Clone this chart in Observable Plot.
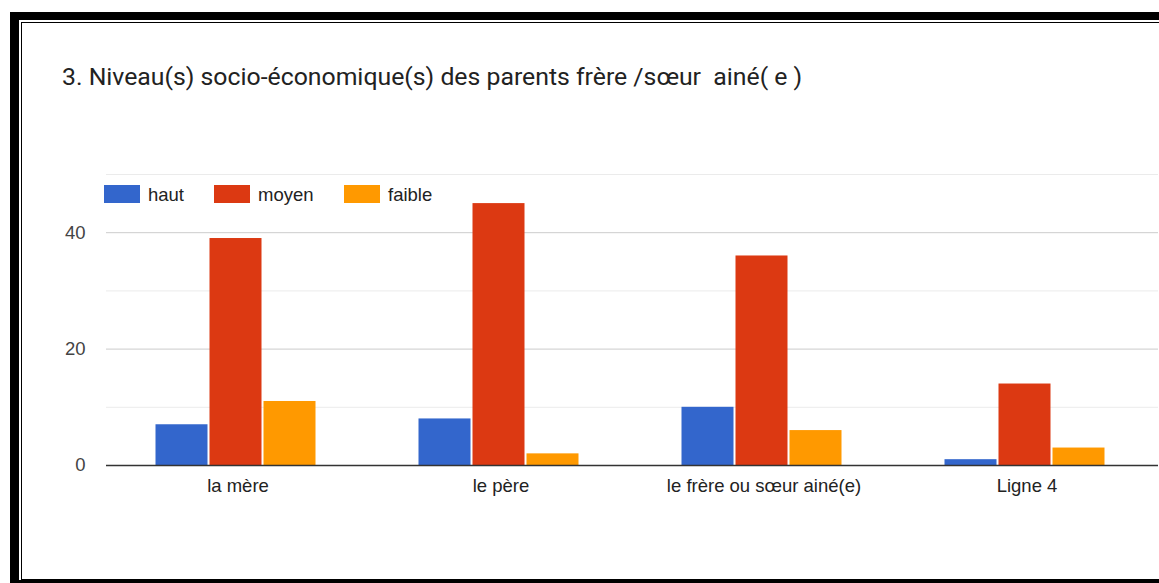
<!DOCTYPE html>
<html>
<head>
<meta charset="utf-8">
<script src="https://cdn.jsdelivr.net/npm/d3@7"></script>
<script src="https://cdn.jsdelivr.net/npm/@observablehq/plot@0.6"></script>
<style>
  html, body { margin: 0; padding: 0; width: 1159px; height: 583px; overflow: hidden; background: #fff; font-family: "Liberation Sans", Arial, sans-serif; }
  #frameA { position: absolute; left: 10px; top: 12px; width: 1160px; height: 571px; background: #000; }
  #frameB { position: absolute; left: 19px; top: 20px; width: 1160px; height: 560px; background: #fff; }
  #frameC { position: absolute; left: 21px; top: 22px; width: 1160px; height: 558px; border-top: 1.5px solid #000; border-left: 1.5px solid #000; border-bottom: 1.5px solid #000; background: #fff; box-sizing: border-box; }
  #title { position: absolute; left: 62px; top: 62px; font-family: Roboto, sans-serif; font-size: 24.8px; color: #222; white-space: pre; }
  #chart { position: absolute; left: 0; top: 140px; }
  #legend { position: absolute; left: 104px; top: 185px; font-size: 18.5px; color: #222; }
  .item { position: absolute; top: 0; white-space: nowrap; }
  .sw { position: absolute; top: 0px; width: 36px; height: 18px; }
  .lab { position: absolute; top: -1px; }
</style>
</head>
<body>
<div id="frameA"></div>
<div id="frameB"></div>
<div id="frameC"></div>
<div id="title">3. Niveau(s) socio-économique(s) des parents frère /sœur  ainé( e )</div>
<div id="chart"></div>
<div id="legend"></div>
<script>
const categories = ["la mère", "le père", "le frère ou sœur ainé(e)", "Ligne 4"];
const series = ["haut", "moyen", "faible"];
const haut = [7, 8, 10, 1];
const moyen = [39, 45, 36, 14];
const faible = [11, 2, 6, 3];
const colors = ["#3366cc", "#dc3912", "#ff9900"];
const majorTicks = [0, 20, 40];
const minorTicks = [10, 30, 50];

const values = {haut, moyen, faible};
const data = [];
categories.forEach((c, i) => series.forEach(s => data.push({category: c, series: s, value: values[s][i]})));

const font = "'Liberation Sans', Arial, sans-serif";

const plot = Plot.plot({
  width: 1159,
  height: 400,
  marginLeft: 104,
  marginRight: 0,
  marginTop: 34,
  marginBottom: 75,
  style: {fontFamily: font, fontSize: "18.5px", background: "transparent", overflow: "visible"},
  fx: {domain: categories, padding: 0, label: null},
  x: {domain: series, axis: null, paddingInner: 0.036, paddingOuter: 0.95},
  y: {domain: [0, 50], axis: null},
  color: {domain: series, range: colors},
  marks: [
    Plot.ruleY(minorTicks, {stroke: "#ebebeb", strokeWidth: 1}),
    Plot.ruleY(majorTicks.filter(d => d > 0), {stroke: "#cccccc", strokeWidth: 1}),
    Plot.barY(data, {fx: "category", x: "series", y: "value", fill: "series", dx: -1.5}),
    Plot.ruleY([0], {stroke: "#333333", strokeWidth: 1.5}),
    Plot.axisFx({anchor: "bottom", tickSize: 0, tickPadding: 13, label: null, fill: "#222", fontSize: 18.5})
  ]
});

const yaxis = Plot.plot({
  width: 104,
  height: 400,
  marginLeft: 104,
  marginRight: 0,
  marginTop: 34,
  marginBottom: 75,
  style: {fontFamily: font, fontSize: "18.5px", background: "transparent", overflow: "visible"},
  y: {domain: [0, 50]},
  marks: [
    Plot.axisY(majorTicks, {tickSize: 0, tickPadding: 19, label: null, fill: "#444", fontSize: 18.5})
  ]
});

const chart = document.getElementById("chart");
chart.appendChild(plot);
yaxis.style.position = "absolute";
yaxis.style.left = "0px";
yaxis.style.top = "0px";
chart.appendChild(yaxis);

const legend = document.getElementById("legend");
const offsets = [0, 110, 240];
series.forEach((s, i) => {
  const item = document.createElement("div");
  item.className = "item";
  item.style.left = offsets[i] + "px";
  item.innerHTML = `<div class="sw" style="background:${colors[i]}"></div><div class="lab" style="left:44px">${s}</div>`;
  legend.appendChild(item);
});
</script>
</body>
</html>
